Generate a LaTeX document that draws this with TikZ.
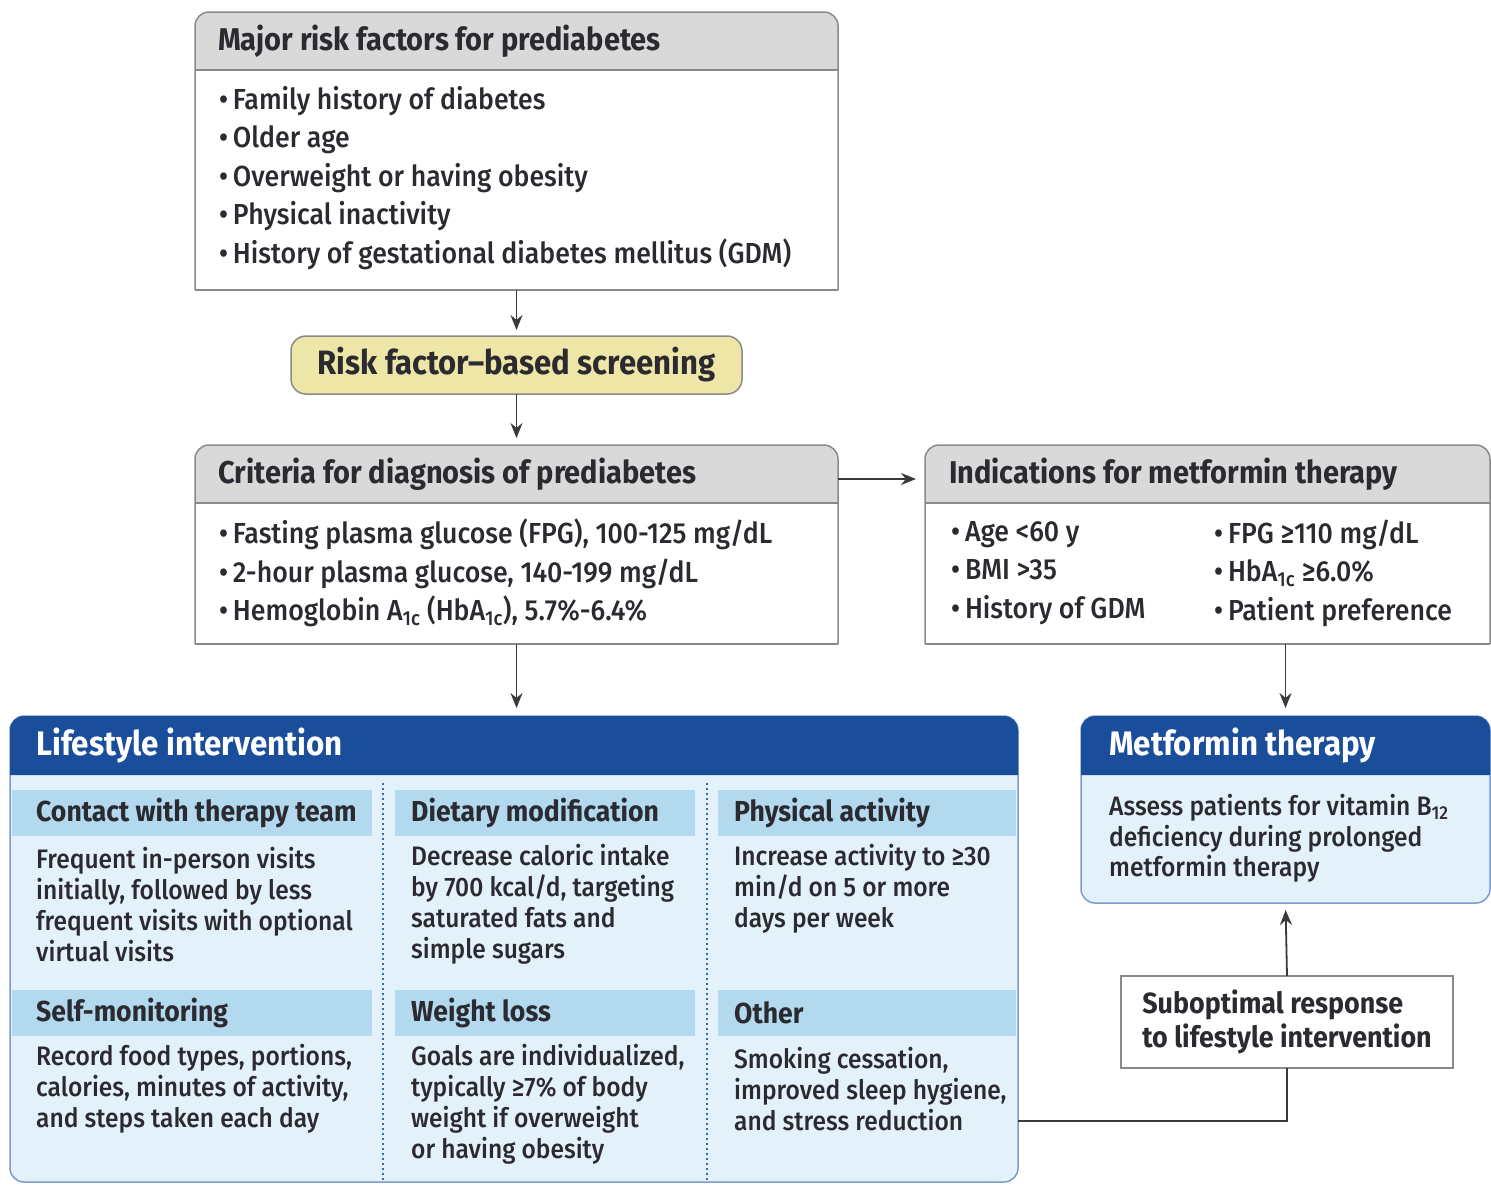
\documentclass[tikz,border=0pt]{standalone}
\usepackage{fontspec}
\setmainfont{Fira Sans}[FakeStretch=0.92, UprightFont=* Medium, BoldFont=* Bold]
\usepackage{tikz}
\usetikzlibrary{
    positioning,
    arrows.meta
}
\definecolor{tinta}{HTML}{2B2A30}
\definecolor{gris}{HTML}{D9D9DA}
\definecolor{marcogris}{HTML}{8A8A8C}
\definecolor{amarillo}{HTML}{EEE6A6}
\definecolor{azul}{HTML}{1A4E9B}
\definecolor{celeste}{HTML}{E3F1FA}
\definecolor{subazul}{HTML}{B3D9EF}
\definecolor{bordeazul}{HTML}{7D9CCB}
\definecolor{trazo}{HTML}{3A3A3C}
\tikzset{
    >={Stealth[length=15pt,width=12pt]},
    caja/.style={
        inner sep=0pt,
        outer sep=0pt
    },
    marco/.style={
        draw=marcogris,
        line width=1.5pt
    },
    titulo/.style={
        anchor=west,
        inner sep=0pt,
        text=tinta,
        font=\fontsize{31.5}{36}\selectfont\bfseries
    },
    titblanco/.style={
        titulo,
        text=white,
        font=\fontsize{34}{38}\selectfont\bfseries
    },
    lista/.style={
        anchor=west,
        inner sep=0pt,
        align=left,
        text=tinta,
        font=\fontsize{29}{38.5}\selectfont
    },
    cuerpo/.style={
        anchor=west,
        inner sep=0pt,
        align=left,
        text=tinta,
        font=\fontsize{26.7}{31}\selectfont
    },
    subhd/.style={
        caja,
        fill=subazul,
        minimum height=46pt
    },
    subtit/.style={
        anchor=west,
        inner sep=0pt,
        text=tinta,
        font=\fontsize{28.9}{32}\selectfont\bfseries
    },
    punteado/.style={
        draw=azul!85,
        line width=1.5pt,
        dash pattern=on 2pt off 3pt
    },
    flecha/.style={
        ->,
        draw=trazo,
        line width=1.8pt
    }
}

\begin{document}
\begin{tikzpicture}[x=1pt, y=-1pt]

    \useasboundingbox (0,0) rectangle (1491,1184);

    % Cajas superiores
    \node[caja, minimum width=643pt, minimum height=278pt] (risk) at (516.5,151) {};
    \node[caja, minimum width=643pt, minimum height=58pt, below=0pt of risk.north] (riskhd) {};
    \node[caja, minimum width=643pt, minimum height=199pt] (crit) at (516.5,544.5) {};
    \node[caja, minimum width=643pt, minimum height=58pt, below=0pt of crit.north] (crithd) {};
    \node[caja, minimum width=565pt, minimum height=199pt] (ind) at (1207.5,544.5) {};
    \node[caja, minimum width=565pt, minimum height=58pt, below=0pt of ind.north] (indhd) {};

    \foreach \nom in {risk,crit,ind}{
        \fill[gris, rounded corners=14pt]
            (\nom hd.south west) -- (\nom hd.north west) -- (\nom hd.north east) -- (\nom hd.south east);
        \draw[marco] (\nom hd.south west) -- (\nom hd.south east);
        \draw[marco, rounded corners=14pt]
            (\nom.south west) -- (\nom.north west) -- (\nom.north east) -- (\nom.south east);
        \draw[marco] (\nom.south west) -- (\nom.south east);
    }

    \node[titulo, right=23pt of riskhd.west] (risktit) {Major risk factors for prediabetes};
    \node[lista] (risklist) at (219,178) {%
        •\,Family history of diabetes\\
        •\,Older age\\
        •\,Overweight or having obesity\\
        •\,Physical inactivity\\
        •\,History of gestational diabetes mellitus (GDM)};

    \node[titulo, right=23pt of crithd.west] (crittit) {Criteria for diagnosis of prediabetes};
    \node[lista] (critlist) at (219,573) {%
        •\,Fasting plasma glucose (FPG), 100-125 mg/dL\\
        •\,2-hour plasma glucose, 140-199 mg/dL\\
        •\,Hemoglobin A\textsubscript{1c} (HbA\textsubscript{1c}), 5.7\%-6.4\%};

    \node[titulo, right=24pt of indhd.west] (indtit) {Indications for metformin therapy};
    \node[lista] (indleft) at (951,573) {%
        •\,Age <60 y\\
        •\,BMI >35\\
        •\,History of GDM};
    \node[lista] (indright) at (1214,573) {%
        •\,FPG ≥110 mg/dL\\
        •\,HbA\textsubscript{1c} ≥6.0\%\\
        •\,Patient preference};

    % Cribado
    \node[caja, minimum width=451pt, minimum height=58pt, rounded corners=15pt,
          fill=amarillo, marco, text=tinta,
          font=\fontsize{33.8}{38}\selectfont\bfseries] (screen) at (516.5,365)
        {Risk factor–based screening};

    % Intervencion de estilo de vida
    \node[caja, minimum width=1008pt, minimum height=466pt] (life) at (514,949) {};
    \node[caja, minimum width=1008pt, minimum height=59pt, below=0pt of life.north] (lifehd) {};
    \filldraw[fill=celeste, draw=bordeazul, line width=1.5pt, rounded corners=14pt]
        (life.south west) rectangle (life.north east);
    \fill[azul, rounded corners=14pt]
        (lifehd.south west) -- (lifehd.north west) -- (lifehd.north east) -- (lifehd.south east);
    \node[titblanco, right=26pt of lifehd.west] (lifetit) {Lifestyle intervention};

    \node[subhd, minimum width=360pt] (contact) at (192,813) {};
    \node[subhd, minimum width=300pt] (diet) at (545,813) {};
    \node[subhd, minimum width=298pt] (activ) at (867,813) {};
    \node[subhd, minimum width=360pt] (selfmon) at (192,1013) {};
    \node[subhd, minimum width=300pt] (weight) at (545,1013) {};
    \node[subhd, minimum width=298pt] (other) at (867,1013) {};

    \draw[punteado] (383,783) -- (383,1181);
    \draw[punteado] (707,783) -- (707,1181);

    \node[subtit, right=24pt of contact.west] (contacttit) {Contact with therapy team};
    \node[subtit, right=16pt of diet.west] (diettit) {Dietary modification};
    \node[subtit, right=16pt of activ.west] (activtit) {Physical activity};
    \node[subtit, right=24pt of selfmon.west] (selfmontit) {Self-monitoring};
    \node[subtit, right=16pt of weight.west] (weighttit) {Weight loss};
    \node[subtit, right=16pt of other.west] (othertit) {Other};

    \node[cuerpo] (contacttxt) at (36,904.5) {%
        Frequent in-person visits\\
        initially, followed by less\\
        frequent visits with optional\\
        virtual visits};
    \node[cuerpo] (diettxt) at (411,904.5) {%
        Decrease caloric intake\\
        by 700 kcal/d, targeting\\
        saturated fats and\\
        simple sugars};
    \node[cuerpo] (activtxt) at (734,889) {%
        Increase activity to ≥30\\
        min/d on 5 or more\\
        days per week};
    \node[cuerpo] (selfmontxt) at (36,1089) {%
        Record food types, portions,\\
        calories, minutes of activity,\\
        and steps taken each day};
    \node[cuerpo] (weighttxt) at (411,1104.5) {%
        Goals are individualized,\\
        typically ≥7\% of body\\
        weight if overweight\\
        or having obesity};
    \node[cuerpo] (othertxt) at (734,1089) {%
        Smoking cessation,\\
        improved sleep hygiene,\\
        and stress reduction};

    % Metformina
    \node[caja, minimum width=409pt, minimum height=187pt] (met) at (1285.5,809.5) {};
    \node[caja, minimum width=409pt, minimum height=59pt, below=0pt of met.north] (methd) {};
    \filldraw[fill=celeste, draw=bordeazul, line width=1.5pt, rounded corners=14pt]
        (met.south west) rectangle (met.north east);
    \fill[azul, rounded corners=14pt]
        (methd.south west) -- (methd.north west) -- (methd.north east) -- (methd.south east);
    \node[titblanco, right=28pt of methd.west] (mettit) {Metformin therapy};
    \node[cuerpo, font=\fontsize{26.7}{30.5}\selectfont] (mettxt) at (1109,838.5) {%
        Assess patients for vitamin B\textsubscript{12}\\
        deficiency during prolonged\\
        metformin therapy};

    \node[caja, minimum width=332pt, minimum height=92pt, fill=white, marco,
          align=left, text=tinta,
          font=\fontsize{29.2}{34}\selectfont\bfseries] (subopt) at (1287,1022)
        {Suboptimal response\\to lifestyle intervention};

    % Flechas
    \draw[flecha, shorten >=6pt] (risk) -- (screen);
    \draw[flecha, shorten >=7pt] (screen) -- (crit);
    \draw[flecha, shorten >=9pt] ([yshift=-5pt]crithd.east) -- ([yshift=-5pt]indhd.west);
    \draw[flecha, shorten >=8pt] (crit.south) -- (crit.south |- life.north);
    \draw[flecha, shorten >=8pt] (ind.south -| met.north) -- (met.north);
    \coordinate (lifeout) at (life.east |- 0,1121);
    \draw[draw=trazo, line width=1.8pt] (lifeout) -| (subopt.south);
    \draw[flecha, shorten >=7pt] (subopt.north) -- (met.south);

\end{tikzpicture}
\end{document}
